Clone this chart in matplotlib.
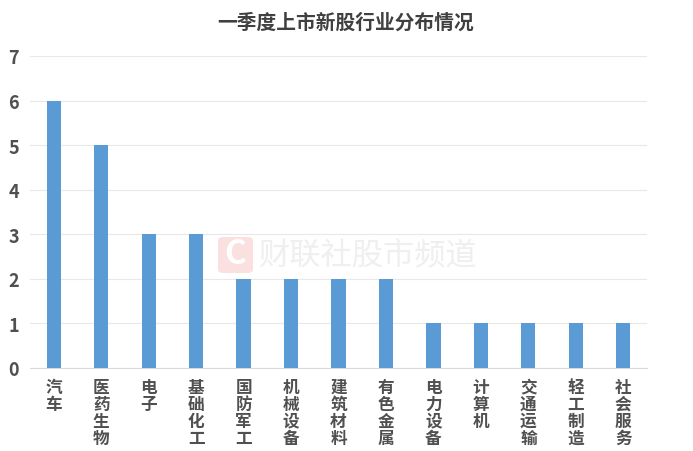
import matplotlib
matplotlib.use("Agg")
import matplotlib.pyplot as plt
from matplotlib.patches import FancyBboxPatch

plt.rcParams['font.family'] = ['Noto Sans CJK SC', 'DejaVu Sans']

categories = ["汽车", "医药生物", "电子", "基础化工", "国防军工", "机械设备", "建筑材料",
              "有色金属", "电力设备", "计算机", "交通运输", "轻工制造", "社会服务"]
values = [6, 5, 3, 3, 2, 2, 2, 2, 1, 1, 1, 1, 1]
yticks = [0, 1, 2, 3, 4, 5, 6, 7]

W, H = 693, 452
fig = plt.figure(figsize=(W / 100, H / 100), dpi=100)
ax = fig.add_axes([30 / W, 1 - 369 / H, 617 / W, 312 / H])

x = range(len(categories))
ax.bar(x, values, width=0.3, color="#5b9bd5", zorder=3)
ax.set_xlim(-0.5, 12.5)
ax.set_ylim(0, 7)
ax.set_yticks(yticks)
ax.set_xticks(list(x))
# 竖排标签
ax.set_xticklabels(["\n".join(c) for c in categories], linespacing=0.93)
ax.tick_params(axis="x", length=0, pad=7, labelsize=12, labelcolor="#505050")
ax.tick_params(axis="y", length=0, pad=8, labelsize=13, labelcolor="#505050")
for lab in ax.get_xticklabels() + ax.get_yticklabels():
    lab.set_fontweight("bold")
ax.grid(axis="y", color="#e8e8e8", linewidth=0.8, zorder=0)
for s in ["top", "right", "left"]:
    ax.spines[s].set_visible(False)
ax.spines["bottom"].set_color("#d9d9d9")

fig.text(345.5 / W, 1 - 23 / H, "一季度上市新股行业分布情况", ha="center", va="center",
         fontsize=14.2, fontweight="bold", color="#404040")

# 水印
fig.patches.append(FancyBboxPatch((218 / W, 1 - 274 / H), 35 / W, 36 / H,
                                  boxstyle="round,pad=0,rounding_size=0.008",
                                  transform=fig.transFigure, facecolor="#fbe0e0",
                                  edgecolor="none", zorder=4))
fig.text(235.5 / W, 1 - 255 / H, "C", ha="center", va="center", fontsize=24,
         fontweight="bold", color="white", zorder=5)
fig.text(259 / W, 1 - 256 / H, "财联社股市频道", ha="left", va="center", fontsize=22.5,
         color="#efefef", zorder=5)

fig.savefig("out.png", dpi=100)
